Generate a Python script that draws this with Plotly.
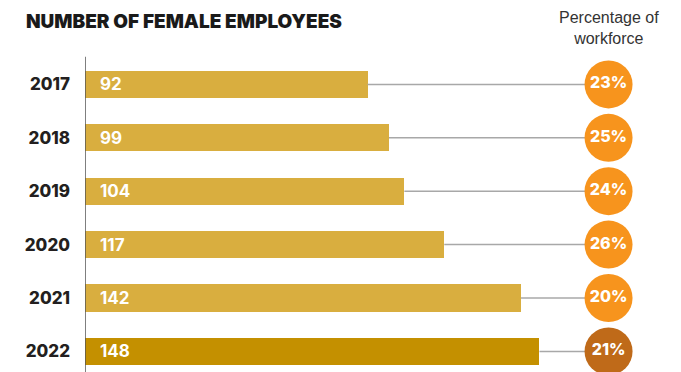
import plotly.graph_objects as go

years = ["2017", "2018", "2019", "2020", "2021", "2022"]
employees = [92, 99, 104, 117, 142, 148]
pct_labels = ["23%", "25%", "24%", "26%", "20%", "21%"]
bar_colors = ["#D9AE3F"] * 5 + ["#C49000"]
circle_colors = ["#F7941D"] * 5 + ["#BF6A19"]

CIRCLE_X = 170.5
pos = list(range(len(years)))

fig = go.Figure()

# connector lines
for i, v in enumerate(employees):
    fig.add_trace(go.Scatter(x=[v, CIRCLE_X], y=[i, i], mode="lines",
                             line=dict(color="#A8A8A8", width=1.5),
                             hoverinfo="skip", showlegend=False))

fig.add_trace(go.Bar(x=employees, y=pos, orientation="h", width=0.51,
                     marker=dict(color=bar_colors, line=dict(width=0)),
                     showlegend=False))

fig.add_trace(go.Scatter(x=[CIRCLE_X] * len(years), y=pos, mode="markers+text",
                         marker=dict(size=48, color=circle_colors, line=dict(width=0)),
                         text=pct_labels, textposition="middle center",
                         textfont=dict(family="Inter", size=16, color="white", weight=800),
                         showlegend=False))

# value labels inside bars
for i, v in enumerate(employees):
    fig.add_annotation(x=0, y=i, text=str(v), showarrow=False, xanchor="left",
                       xshift=13, font=dict(family="Inter", size=17, color="white", weight=700))

# vertical axis line
fig.add_shape(type="line", x0=0, x1=0, y0=-0.52, y1=5.6, xref="x", yref="y",
              line=dict(color="#555555", width=1.5))

# title
fig.add_annotation(x=0, xref="paper", xanchor="left", xshift=-60,
                   y=1, yref="paper", yanchor="top", yshift=-1,
                   text="NUMBER OF FEMALE EMPLOYEES", showarrow=False, borderpad=0,
                   font=dict(family="Inter", size=19, color="#1a1a1a", weight=900))

fig.add_annotation(x=CIRCLE_X, xref="x", y=1, yref="paper", yanchor="top",
                   text="Percentage of<br>workforce", showarrow=False, borderpad=0,
                   align="center",
                   font=dict(family="Liberation Sans", size=16, color="#333333"))

fig.update_layout(
    width=681, height=372, autosize=False,
    margin=dict(l=77, r=0, t=0, b=0, autoexpand=False),
    paper_bgcolor="white", plot_bgcolor="white",
    xaxis=dict(range=[0, 196.7], visible=False, fixedrange=True, automargin=False),
    yaxis=dict(range=[5.536, -1.431], tickvals=pos, ticktext=years, showgrid=False,
               zeroline=False, showline=False, ticks="", ticklabelstandoff=14,
               automargin=False,
               tickfont=dict(family="Inter", size=17, color="#231F20", weight=800)),
    bargap=0,
)

fig.write_html("out.html")
